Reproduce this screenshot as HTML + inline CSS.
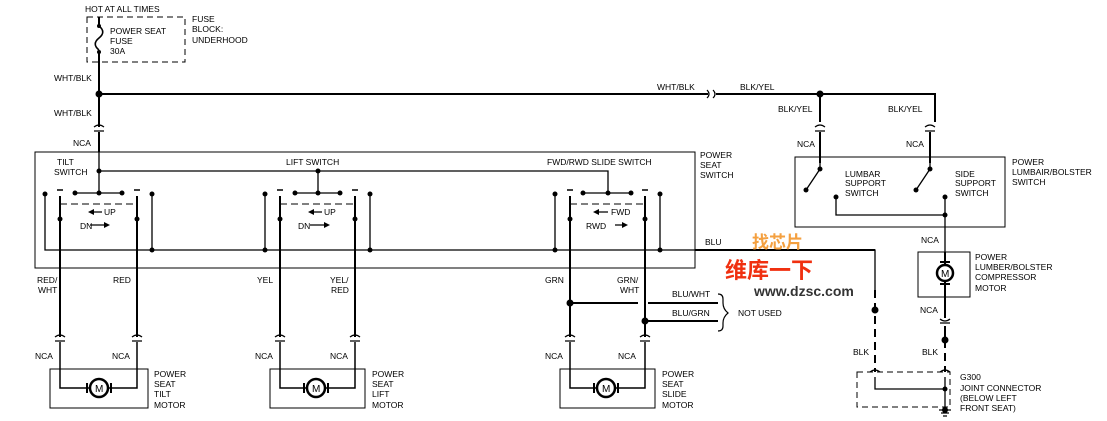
<!DOCTYPE html>
<html><head><meta charset="utf-8"><style>
body{margin:0;background:#fff}
svg{display:block}
text{font-family:"Liberation Sans",Arial,sans-serif;font-size:8.5px;fill:#000}
</style></head><body>
<svg width="1107" height="421" viewBox="0 0 1107 421" xmlns="http://www.w3.org/2000/svg">
<g stroke="#000" stroke-width="1.3" fill="none">
<rect x="87" y="17" width="98" height="45" stroke-dasharray="6,4" stroke-width="1"/>
<path d="M99 17 V26 M99 52 V127" stroke-width="2"/>
<path d="M99 26 c5 4 5 8 0 12 c-5 4 -5 8 0 12" stroke-width="1.6"/>
<path d="M99 94 H708 M716 94 H935 V122 M820 94 V122" stroke-width="2"/>
<path d="M707 90 q4 4 0 8 M713 90 q4 4 0 8" stroke-width="1.2"/>
<path d="M99 132 V152 M820 132 V163 M930 132 V163" stroke-width="2"/>
<path d="M94 127 q5 -4 10 0 M94 131 h10 M815 127 q5 -4 10 0 M815 131 h10 M925 127 q5 -4 10 0 M925 131 h10" stroke-width="1.2"/>
<rect x="35" y="152" width="660" height="116" stroke-width="1"/>
<path d="M99 152 V193 M99 171 H608 V193 M318 171 V193"/>
<path d="M75 193 H122 M295 193 H340 M583 193 H631"/>
<path d="M60 204 H137 M280 204 H355 M570 204 H645" stroke-dasharray="7,4" stroke-width="1"/>
<path d="M45 194 V250 H875 V290 M152 194 V250 M265 194 V250 M370 194 V250 M555 194 V250 M660 194 V250" />
<path d="M695 250 H875" stroke-width="2"/>
<path d="M60 196 V337 M137 196 V337 M280 196 V337 M355 196 V337 M570 196 V337 M645 196 V337" stroke-width="2"/>
<path d="M57 190 h6 M134 190 h6 M277 190 h6 M352 190 h6 M567 190 h6 M642 190 h6" stroke-width="1.5"/>
<path d="M60 342 V388 H89 M137 342 V388 H109 M280 342 V388 H306 M355 342 V388 H326 M570 342 V388 H596 M645 342 V388 H616" stroke-width="1.5"/>
<path d="M55 337 q5 -4 10 0 M55 341 h10 M132 337 q5 -4 10 0 M132 341 h10 M275 337 q5 -4 10 0 M275 341 h10 M350 337 q5 -4 10 0 M350 341 h10 M565 337 q5 -4 10 0 M565 341 h10 M640 337 q5 -4 10 0 M640 341 h10"/>
<rect x="50" y="369" width="98" height="39" stroke-width="1"/>
<rect x="270" y="369" width="95" height="39" stroke-width="1"/>
<rect x="560" y="369" width="95" height="39" stroke-width="1"/>
<circle cx="99" cy="388" r="9" stroke-width="2.5"/>
<circle cx="316" cy="388" r="9" stroke-width="2.5"/>
<circle cx="606" cy="388" r="9" stroke-width="2.5"/>
<path d="M87 383 v10 M111 383 v10 M304 383 v10 M328 383 v10 M594 383 v10 M618 383 v10" stroke-width="2"/>
<path d="M570 303 H638 M648 303 H718 M645 321 H718" stroke-width="2"/>
<path d="M718 294 q5 0 5 5 v4 q0 6 5 10 q-5 4 -5 10 v3 q0 5 -5 5" stroke-width="1.2"/>
<rect x="795" y="157" width="210" height="70" stroke-width="1"/>
<path d="M820 163 V169 L806 190 M930 163 V169 L916 190 M836 197 V215 H945 V197 M945 215 V252"/>
<rect x="918" y="252" width="52" height="45" stroke-width="1"/>
<circle cx="945" cy="273" r="8" stroke-width="2.5"/>
<path d="M940 262 h10 M940 284 h10" stroke-width="2"/>
<path d="M945 252 V265 M945 281 V318 M945 326 V340" stroke-width="2"/>
<path d="M940 319 q5 4 10 0 M940 323 h10"/>
<path d="M875 290 V372 M945 340 V372" stroke-width="2" stroke-dasharray="8,5"/>
<rect x="857" y="372" width="93" height="35" stroke-dasharray="6,4" stroke-width="1"/>
<path d="M870 372 q5 -4 10 0 M940 372 q5 -4 10 0"/>
<path d="M875 377 V389 H945 M945 377 V410 M939 410 h12 M941 413 h8 M943 416 h4"/>
</g>
<g fill="#000">
<circle cx="99" cy="26" r="2"/><circle cx="99" cy="52" r="2"/>
<circle cx="99" cy="94" r="3.5"/><circle cx="820" cy="94" r="3.5"/>
<circle cx="99" cy="171" r="2.5"/><circle cx="318" cy="171" r="2.5"/>
<circle cx="45" cy="194" r="2.5"/><circle cx="75" cy="193" r="2.5"/><circle cx="99" cy="193" r="2.5"/><circle cx="122" cy="193" r="2.5"/><circle cx="152" cy="194" r="2.5"/>
<circle cx="265" cy="194" r="2.5"/><circle cx="295" cy="193" r="2.5"/><circle cx="318" cy="193" r="2.5"/><circle cx="340" cy="193" r="2.5"/><circle cx="370" cy="194" r="2.5"/>
<circle cx="555" cy="194" r="2.5"/><circle cx="583" cy="193" r="2.5"/><circle cx="608" cy="193" r="2.5"/><circle cx="631" cy="193" r="2.5"/><circle cx="660" cy="194" r="2.5"/>
<circle cx="60" cy="219" r="2.5"/><circle cx="137" cy="219" r="2.5"/><circle cx="280" cy="219" r="2.5"/><circle cx="355" cy="219" r="2.5"/><circle cx="570" cy="219" r="2.5"/><circle cx="645" cy="219" r="2.5"/>
<circle cx="152" cy="250" r="2.5"/><circle cx="265" cy="250" r="2.5"/><circle cx="370" cy="250" r="2.5"/><circle cx="555" cy="250" r="2.5"/><circle cx="660" cy="250" r="2.5"/>
<circle cx="570" cy="303" r="3.5"/><circle cx="645" cy="321" r="3.5"/>
<circle cx="875" cy="310" r="3.5"/><circle cx="945" cy="340" r="3.5"/>
<circle cx="820" cy="169" r="2.5"/><circle cx="806" cy="190" r="2.5"/><circle cx="836" cy="197" r="2.5"/>
<circle cx="930" cy="169" r="2.5"/><circle cx="916" cy="190" r="2.5"/><circle cx="945" cy="197" r="2.5"/><circle cx="945" cy="215" r="2.5"/>
<circle cx="945" cy="389" r="2.5"/><circle cx="945" cy="410" r="3"/>
<path d="M88 212 l6 -3 v6z M110 225 l-6 -3 v6z M308 212 l6 -3 v6z M330 225 l-6 -3 v6z M593 212 l6 -3 v6z M628 225 l-6 -3 v6z"/>
</g>
<g stroke="#000" stroke-width="1.2">
<path d="M94 212 H102 M90 225 H104 M314 212 H322 M310 225 H324 M599 212 H608 M615 225 H622"/>
</g>
<text x="95" y="392" style="font-size:10px">M</text><text x="312" y="392" style="font-size:10px">M</text><text x="602" y="392" style="font-size:10px">M</text><text x="941" y="277" style="font-size:10px">M</text>
<text x="85" y="12">HOT AT ALL TIMES</text>
<text x="110" y="34">POWER SEAT</text><text x="110" y="44">FUSE</text><text x="110" y="54">30A</text>
<text x="192" y="22">FUSE</text><text x="192" y="32">BLOCK:</text><text x="192" y="43">UNDERHOOD</text>
<text x="54" y="81">WHT/BLK</text><text x="54" y="116">WHT/BLK</text><text x="73" y="146">NCA</text>
<text x="657" y="90">WHT/BLK</text><text x="740" y="90">BLK/YEL</text>
<text x="778" y="112">BLK/YEL</text><text x="888" y="112">BLK/YEL</text>
<text x="797" y="147">NCA</text><text x="906" y="147">NCA</text>
<text x="57" y="165">TILT</text><text x="54" y="175">SWITCH</text>
<text x="286" y="165">LIFT SWITCH</text><text x="547" y="165">FWD/RWD SLIDE SWITCH</text>
<text x="700" y="158">POWER</text><text x="700" y="168">SEAT</text><text x="700" y="178">SWITCH</text>
<text x="104" y="215">UP</text><text x="80" y="229">DN</text>
<text x="324" y="215">UP</text><text x="298" y="229">DN</text>
<text x="611" y="215">FWD</text><text x="586" y="229">RWD</text>
<text x="705" y="245">BLU</text>
<text x="845" y="177">LUMBAR</text><text x="845" y="186">SUPPORT</text><text x="845" y="196">SWITCH</text>
<text x="955" y="177">SIDE</text><text x="955" y="186">SUPPORT</text><text x="955" y="196">SWITCH</text>
<text x="1012" y="165">POWER</text><text x="1012" y="175">LUMBAIR/BOLSTER</text><text x="1012" y="185">SWITCH</text>
<text x="921" y="243">NCA</text>
<text x="975" y="260">POWER</text><text x="975" y="270">LUMBER/BOLSTER</text><text x="975" y="280">COMPRESSOR</text><text x="975" y="291">MOTOR</text>
<text x="37" y="283">RED/</text><text x="38" y="293">WHT</text><text x="113" y="283">RED</text>
<text x="257" y="283">YEL</text><text x="330" y="283">YEL/</text><text x="331" y="293">RED</text>
<text x="545" y="283">GRN</text><text x="617" y="283">GRN/</text><text x="620" y="293">WHT</text>
<text x="672" y="297">BLU/WHT</text><text x="672" y="316">BLU/GRN</text><text x="738" y="316">NOT USED</text>
<text x="35" y="359">NCA</text><text x="112" y="359">NCA</text><text x="255" y="359">NCA</text><text x="330" y="359">NCA</text>
<text x="545" y="359">NCA</text><text x="618" y="359">NCA</text>
<text x="154" y="377">POWER</text><text x="154" y="387">SEAT</text><text x="154" y="397">TILT</text><text x="154" y="408">MOTOR</text>
<text x="372" y="377">POWER</text><text x="372" y="387">SEAT</text><text x="372" y="397">LIFT</text><text x="372" y="408">MOTOR</text>
<text x="662" y="377">POWER</text><text x="662" y="387">SEAT</text><text x="662" y="397">SLIDE</text><text x="662" y="408">MOTOR</text>
<text x="920" y="313">NCA</text><text x="853" y="355">BLK</text><text x="922" y="355">BLK</text>
<text x="960" y="380">G300</text><text x="960" y="391">JOINT CONNECTOR</text><text x="960" y="401">(BELOW LEFT</text><text x="960" y="411">FRONT SEAT)</text>
<text x="752" y="248" style="font-size:17px;font-weight:bold;fill:#f4a040;font-family:'Noto Sans CJK SC',sans-serif">找芯片</text>
<text x="725" y="278" style="font-size:22px;font-weight:bold;fill:#f03010;font-family:'Noto Sans CJK SC',sans-serif">维库一下</text>
<text x="754" y="296" style="font-size:14px;font-weight:bold;fill:#333">www.dzsc.com</text>
</svg>
</body></html>
